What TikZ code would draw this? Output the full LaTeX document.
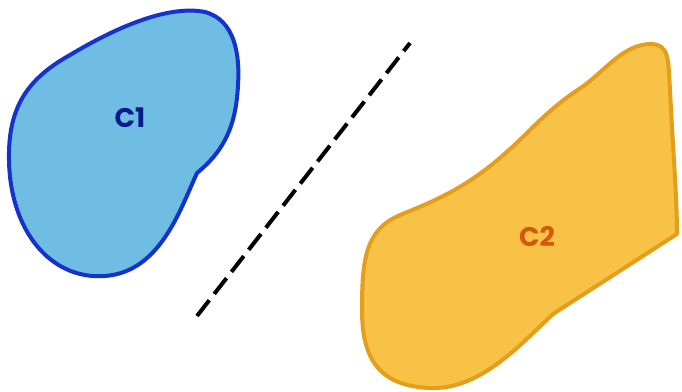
\documentclass[tikz,border=0pt]{standalone}
\usepackage{fontspec}
\setmainfont{Poppins}
\begin{document}
\begin{tikzpicture}[x=1pt,y=-1pt,
  blobA/.style={draw=blobAline,fill=blobAfill,line width=4pt,line join=round},
  blobB/.style={draw=blobBline,fill=blobBfill,line width=4pt,line join=round},
  lbl/.style={font=\bfseries\fontsize{27}{30}\selectfont,inner sep=0pt},
  sep/.style={draw=black,line width=4pt,dash pattern=on 20pt off 8pt}]
\definecolor{blobAfill}{HTML}{6FBDE3}
\definecolor{blobAline}{HTML}{1433CC}
\definecolor{blobBfill}{HTML}{F8C246}
\definecolor{blobBline}{HTML}{E49E1A}
\definecolor{txtA}{HTML}{0A1A8C}
\definecolor{txtB}{HTML}{D45A0A}
\useasboundingbox (0,0) rectangle (682,391);
\path[blobA] (197,173) .. controls (180,210) and (160,272) .. (105,276)
  .. controls (50,280) and (10,230) .. (9,160)
  .. controls (8,110) and (25,80) .. (70,55)
  .. controls (120,25) and (170,5) .. (205,12)
  .. controls (235,20) and (240,55) .. (238,85)
  .. controls (236,125) and (225,150) .. (197,173) -- cycle;
\path[blobB] (677,234) -- (553,314) .. controls (520,345) and (480,390) .. (430,388)
  .. controls (380,386) and (362,360) .. (362,310)
  .. controls (362,260) and (365,230) .. (400,215)
  .. controls (450,195) and (480,180) .. (530,130)
  .. controls (555,105) and (570,95) .. (585,85)
  .. controls (610,65) and (625,45) .. (650,44)
  .. controls (670,44) and (668,60) .. (670,90)
  .. controls (673,150) and (677,200) .. (677,234) -- cycle;
\node[lbl,text=txtA] (c1) at (130,118) {C1};
\node[lbl,text=txtB] (c2) at (537,236) {C2};
\coordinate (s1) at (197,316);
\coordinate (s2) at (410,43);
\draw[sep] (s1) -- (s2);
\end{tikzpicture}
\end{document}
